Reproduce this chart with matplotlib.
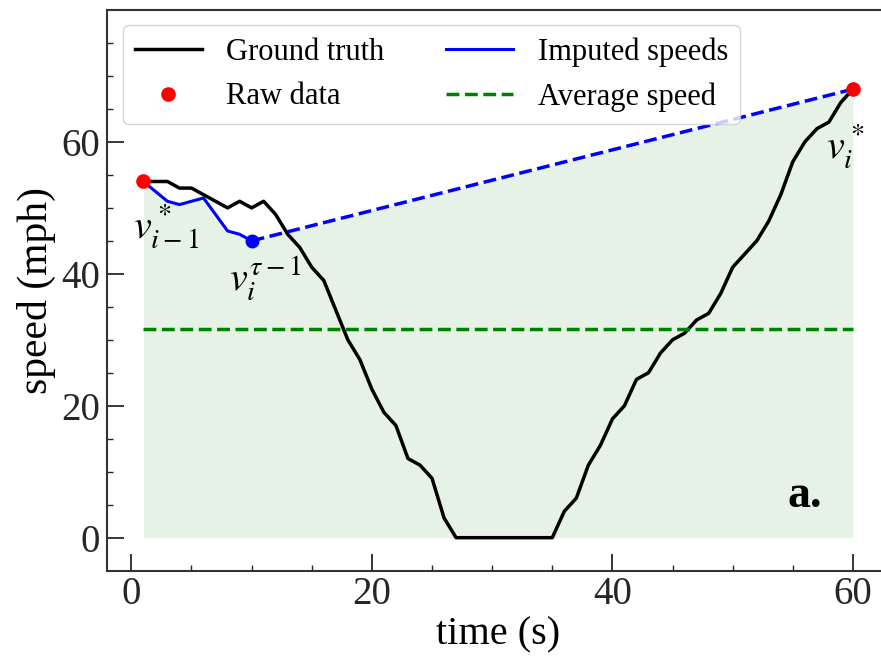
import numpy as np
import matplotlib
matplotlib.use("Agg")
import matplotlib.pyplot as plt

plt.rcParams['font.family'] = ['Liberation Serif', 'DejaVu Serif']
plt.rcParams['mathtext.fontset'] = 'stix'

# ground truth speed, one sample per second
t = np.arange(1, 61)
truth = [54, 54, 54, 53, 53, 52, 51, 50, 51, 50,
         51, 49, 46, 44, 41, 39, 34.5, 30, 27, 22.5,
         19, 17, 12, 11, 9, 3, 0, 0, 0, 0,
         0, 0, 0, 0, 0, 4, 6, 11, 14, 18,
         20, 24, 25, 28, 30, 31, 33, 34, 37, 41,
         43, 45, 48, 52, 57, 60, 62, 63, 66, 68]

# raw observations at both ends of the gap
raw_t = [1, 60]
raw_v = [54, 68]

# imputed speeds up to step tau-1, then straight to the next raw point
imp_t = [1, 2, 3, 4, 5, 6, 7, 8, 9, 10]
imp_v = [54, 52.5, 51, 50.5, 51, 51.5, 49, 46.5, 46, 45]
gap_t = [10, 60]
gap_v = [45, 68]

avg = np.mean(truth)

fig = plt.figure(figsize=(8.81, 6.57), dpi=100)
ax = fig.add_axes([0.1218, 0.1314, 0.8873, 0.8534])

# shaded area under the imputed profile
fill_t = np.arange(1, 61)
fill_v = np.interp(fill_t, imp_t + gap_t[1:], imp_v + gap_v[1:])
ax.fill_between(fill_t, 0, fill_v, color='g', alpha=0.1, lw=0)

l1, = ax.plot(t, truth, 'k-', lw=2.5, label='Ground truth')
l3, = ax.plot(imp_t, imp_v, 'b-', lw=2.2, label='Imputed speeds')
ax.plot(gap_t, gap_v, 'b--', lw=2.5)
ax.plot(imp_t[-1], imp_v[-1], 'bo', ms=9)
l4, = ax.plot([1, 60], [avg, avg], 'g--', lw=2.5, label='Average speed')
l2, = ax.plot(raw_t, raw_v, 'ro', ms=9.5, ls='none', label='Raw data', zorder=5)

ax.text(0.1, 45.4, r'$v^*_{i-1}$', fontsize=29)
ax.text(8.1, 37.5, r'$v_i^{\tau-1}$', fontsize=29)
ax.text(57.8, 57.5, r'$v_i^*$', fontsize=29)
ax.text(57.4, 4.7, 'a.', fontsize=33, fontweight='bold', ha='right')

ax.set_xlim(-2, 63)
ax.set_ylim(-5, 80)
ax.set_xticks([0, 20, 40, 60])
ax.set_yticks([0, 20, 40, 60])
ax.set_xticks(np.arange(0, 61, 5), minor=True)
ax.set_yticks(np.arange(0, 76, 5), minor=True)
ax.tick_params(which='major', direction='in', length=12, width=1.3, labelsize=28, colors='0.15')
ax.tick_params(which='minor', direction='in', length=4, width=1.0, colors='0.15')
ax.tick_params(axis='x', which='major', pad=4)
ax.tick_params(axis='y', which='major', pad=5)
for s in ax.spines.values():
    s.set_linewidth(1.5)
    s.set_color('0.2')

ax.set_xlabel('time (s)', fontsize=29, labelpad=2)
ax.set_ylabel('speed (mph)', fontsize=30, labelpad=4)

ax.legend(handles=[l1, l2, l3, l4], ncol=2, loc='upper left', fontsize=22,
          handlelength=2.2, columnspacing=2.0)

fig.savefig('out.png', dpi=100)
